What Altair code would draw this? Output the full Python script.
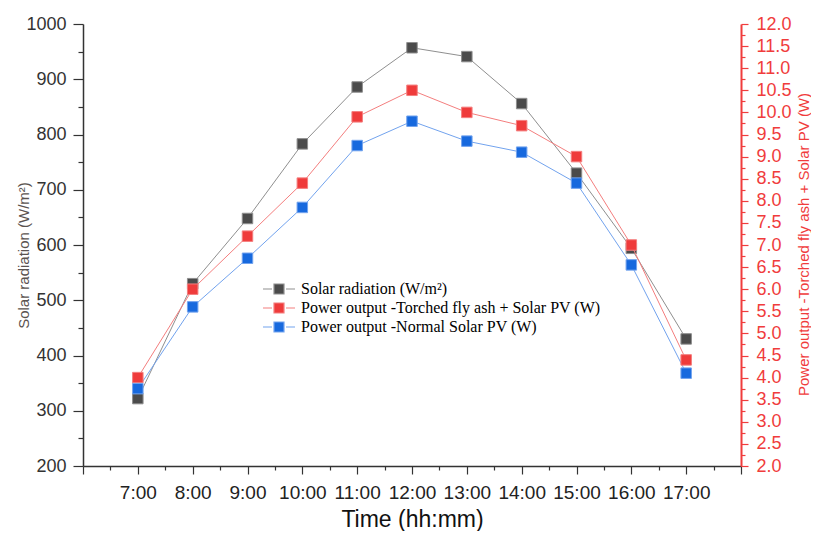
import altair as alt
import pandas as pd

# ---- data ----
times = ["7:00", "8:00", "9:00", "10:00", "11:00", "12:00", "13:00", "14:00", "15:00", "16:00", "17:00"]
solar = [322, 530, 648, 783, 886, 957, 941, 856, 730, 594, 430]
torched = [4.0, 6.0, 7.2, 8.4, 9.9, 10.5, 10.0, 9.7, 9.0, 7.0, 4.4]
normal = [3.75, 5.6, 6.7, 7.85, 9.25, 9.8, 9.35, 9.1, 8.4, 6.55, 4.1]

series_names = [
    "Solar radiation (W/m²)",
    "Power output -Torched fly ash + Solar PV (W)",
    "Power output -Normal Solar PV (W)",
]
marker_colors = ["#4b4b4b", "#ef3b3b", "#1769de"]
line_colors = ["#8f8f8f", "#f47e7e", "#72a3ee"]

hours = [int(t.split(":")[0]) for t in times]

solar_df = pd.DataFrame({"hour": hours, "time": times, "value": solar, "series": series_names[0]})
power_df = pd.concat([
    pd.DataFrame({"hour": hours, "time": times, "value": torched, "series": series_names[1]}),
    pd.DataFrame({"hour": hours, "time": times, "value": normal, "series": series_names[2]}),
], ignore_index=True)

W, H = 658, 442
RED = "#f03c3c"

x_enc = alt.X(
    "hour:Q",
    scale=alt.Scale(domain=[6, 18], nice=False, zero=False),
    axis=alt.Axis(
        values=[6 + 0.5 * i for i in range(25)],
        labelExpr="(datum.value >= 7 && datum.value <= 17 && datum.value % 1 === 0) ? datum.value + ':00' : ''",
        tickSize={"expr": "datum.value % 1 === 0 ? 8 : 4"},
        labelFontSize=19, labelColor="#222", labelPadding=9,
        domainColor="#333", tickColor="#333", domainWidth=1.5, tickWidth=1.2,
        title="Time (hh:mm)", titleFontSize=23, titleFontWeight="normal", titleColor="#111",
        titleX=W / 2, titleY=60, titleAlign="center", titleBaseline="alphabetic",
        grid=False, labelFlush=False, labelOverlap=False,
    ),
)

sym_path = "M-3.2,0H-1.4M1.4,0H3.2M-1,-1H1V1H-1Z"
leg = alt.Legend(
    title=None, orient="none", legendX=188, legendY=257,
    symbolType=sym_path, symbolSize=100, symbolStrokeWidth=1.2, symbolOpacity=1,
    labelFont="Liberation Serif", labelFontSize=16, labelColor="#000",
    labelOffset=14, rowPadding=3, padding=0, labelLimit=600,
)

fill_enc = alt.Fill("series:N", scale=alt.Scale(domain=series_names, range=marker_colors), legend=leg)
stroke_enc = alt.Stroke("series:N", scale=alt.Scale(domain=series_names, range=line_colors), legend=leg)

y_left = alt.Y(
    "value:Q",
    scale=alt.Scale(domain=[200, 1000], nice=False, zero=False),
    axis=alt.Axis(
        orient="left", values=list(range(200, 1001, 50)), format="d",
        labelExpr="datum.value % 100 === 0 ? datum.label : ''",
        tickSize={"expr": "datum.value % 100 === 0 ? 10 : 5"},
        labelFontSize=18, labelColor="#333", labelPadding=7,
        domainColor="#333", tickColor="#333", domainWidth=1.5, tickWidth=1.2,
        title="Solar radiation (W/m²)", titleFontSize=15, titleFontWeight="normal",
        titleColor="#5a5350", titleX=-60, titleY=231, titleAngle=270,
        titleAlign="center", titleBaseline="middle", grid=False,
    ),
)

y_right = alt.Y(
    "value:Q",
    scale=alt.Scale(domain=[2, 12], nice=False, zero=False),
    axis=alt.Axis(
        orient="right", values=[2 + 0.25 * i for i in range(41)], format=".1f",
        labelExpr="(datum.value * 2) % 1 === 0 ? datum.label : ''",
        tickSize={"expr": "(datum.value * 2) % 1 === 0 ? 7 : 4"},
        labelFontSize=18, labelColor=RED, labelPadding=8,
        domainColor=RED, tickColor=RED, domainWidth=2, tickWidth=1.2,
        title="Power output -Torched fly ash + Solar PV (W)", titleFontSize=15,
        titleFontWeight="normal", titleColor=RED, titleX=62, titleY=220,
        titleAngle=270, titleAlign="center", titleBaseline="middle", grid=False,
    ),
)

solar_line = alt.Chart(solar_df).mark_line(strokeWidth=1).encode(x=x_enc, y=y_left, stroke=stroke_enc)
solar_pts = alt.Chart(solar_df).mark_square(size=110, filled=True, strokeWidth=1, opacity=1).encode(
    x=x_enc, y=y_left, fill=fill_enc, stroke=stroke_enc)
power_line = alt.Chart(power_df).mark_line(strokeWidth=1).encode(x=x_enc, y=y_right, stroke=stroke_enc)
power_pts = alt.Chart(power_df).mark_square(size=110, filled=True, strokeWidth=1, opacity=1).encode(
    x=x_enc, y=y_right, fill=fill_enc, stroke=stroke_enc)

left = alt.layer(solar_line, solar_pts)
right = alt.layer(power_line, power_pts)

chart = (
    alt.layer(left, right)
    .resolve_scale(y="independent")
    .properties(
        width=W, height=H,
        autosize=alt.AutoSizeParams(type="none"),
        padding={"left": 75, "top": 16, "right": 70, "bottom": 65},
    )
    .configure_view(stroke=None)
    .configure_axis(labelFont="Liberation Sans", titleFont="Liberation Sans", grid=False)
)

chart.save("out.html", embed_options={"renderer": "svg", "actions": False})
